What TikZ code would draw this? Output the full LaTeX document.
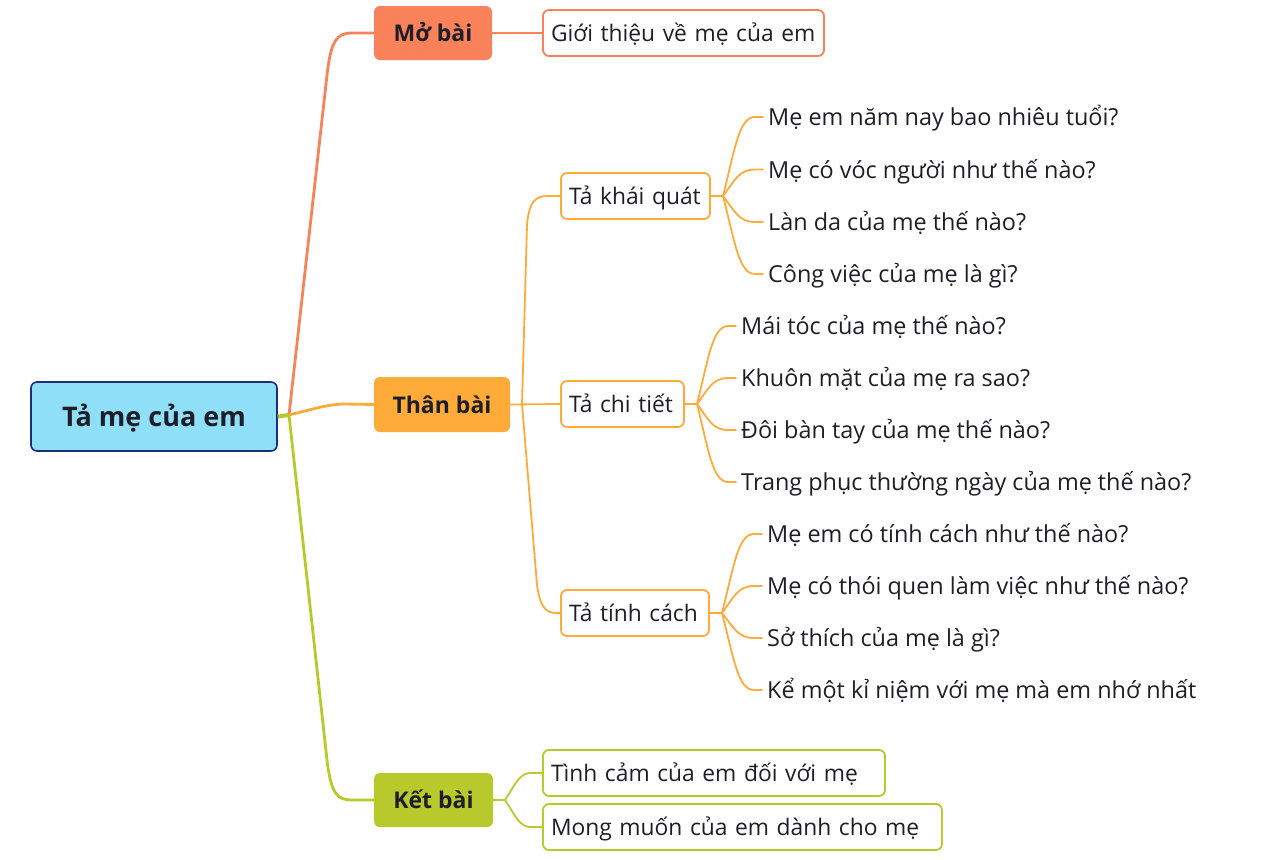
\documentclass[tikz,border=0pt]{standalone}
\usepackage{fontspec}
\setmainfont{Open Sans}
\usetikzlibrary{calc}
\definecolor{coral}{HTML}{F9825A}
\definecolor{orng}{HTML}{FEAB3A}
\definecolor{grn}{HTML}{B7C92B}
\definecolor{rootfill}{HTML}{8FDFF9}
\definecolor{rootdraw}{HTML}{1F2D7D}
\definecolor{txt}{HTML}{1E1E28}
\newcommand\mmleaf[3][]{\draw[#1] let \p1=(#2), \p2=(#3.west) in (#2) .. controls ({\x1+0.3*(\x2-\x1)},{\y1+0.6*(\y2-\y1)}) and ({\x1+0.4*(\x2-\x1)},\y2) .. ({\x1+0.8*(\x2-\x1)},\y2) -- (#3.west);}
\tikzset{
  every node/.style={text=txt},
  rootbox/.style={draw=rootdraw, line width=1.6pt, fill=rootfill, rounded corners=6pt, inner sep=0pt,
    font=\bfseries\fontsize{27}{32}\selectfont, text height=19.5pt, text depth=0pt},
  mainbox/.style={rounded corners=6pt, inner sep=0pt,
    font=\bfseries\fontsize{23}{28}\selectfont, text height=17pt, text depth=0pt},
  subbox/.style={draw, line width=1.8pt, rounded corners=6pt, fill=white, inner xsep=8pt, inner ysep=0pt,
    align=left, text width=#1-16pt, minimum height=46pt,
    execute at begin node={\hbox\bgroup}, execute at end node={\egroup},
    font=\fontsize{22.8}{28}\selectfont, text height=17pt, text depth=0pt},
  leaf/.style={anchor=west, inner xsep=5pt, inner ysep=0pt,
    font=\fontsize{23.4}{28}\selectfont, text height=17pt, text depth=0pt},
  mainline/.style={line width=2.8pt, line cap=round},
  subline/.style={line width=1.8pt, line cap=round},
}
\begin{document}
\begin{tikzpicture}[x=1pt,y=-1pt]
\path[use as bounding box] (0,0) rectangle (1278,860);
% root and main branches
\node[rootbox, minimum width=246pt, minimum height=69pt] (root) at (154,416.5) {Tả mẹ của em};
\node[mainbox, fill=coral, minimum width=118pt, minimum height=54pt] (mo) at (433,33) {Mở bài};
\node[mainbox, fill=orng, minimum width=136pt, minimum height=55pt] (than) at (442,404.5) {Thân bài};
\node[mainbox, fill=grn, minimum width=119pt, minimum height=54pt] (ket) at (433.5,800) {Kết bài};
\coordinate (hub) at (289,415);
\draw[grn, line width=4pt] (root.east) -- (hub);
\draw[coral, mainline] (hub) -- (327,75) .. controls (331,40) and (337,33) .. (352,33) -- (mo.west);
\draw[orng, mainline] (hub) .. controls (310,410) and (328,404) .. (345,404) -- (than.west);
\draw[grn, mainline] (hub) -- (327,760) .. controls (331,795) and (338,800) .. (352,800) -- (ket.west);
% Mo bai
\node[subbox=281pt, draw=coral] (gioi) at (683.5,33) {Giới thiệu về mẹ của em};
\draw[coral, subline] (mo.east) -- (gioi.west);
% Than bai
\node[subbox=149pt, draw=orng] (tkq) at (635.5,196) {Tả khái quát};
\node[subbox=123pt, draw=orng] (tct) at (622.5,404) {Tả chi tiết};
\node[subbox=148pt, draw=orng] (ttc) at (635,613) {Tả tính cách};
\coordinate (jt) at (522,404);
\draw[orng, subline] (than.east) -- (tct.west);
\draw[orng, subline] (jt) -- (527,225) .. controls (529,202) and (535,196) .. (548,196) -- (tkq.west);
\draw[orng, subline] (jt) -- (537,585) .. controls (540,607) and (546,613) .. (556,613) -- (ttc.west);
% Ta khai quat leaves
\coordinate (j1) at (723,196);
\draw[orng, subline] (tkq.east) -- (j1);
\node[leaf] (kq1) at (763,117) {Mẹ em năm nay bao nhiêu tuổi?};
\node[leaf] (kq2) at (763,169.5) {Mẹ có vóc người như thế nào?};
\node[leaf] (kq3) at (763,222) {Làn da của mẹ thế nào?};
\node[leaf] (kq4) at (763,274) {Công việc của mẹ là gì?};
\mmleaf[orng, subline]{j1}{kq1}
\mmleaf[orng, subline]{j1}{kq2}
\mmleaf[orng, subline]{j1}{kq3}
\mmleaf[orng, subline]{j1}{kq4}
% Ta chi tiet leaves
\coordinate (j2) at (697,404);
\draw[orng, subline] (tct.east) -- (j2);
\node[leaf] (ct1) at (736,326) {Mái tóc của mẹ thế nào?};
\node[leaf] (ct2) at (736,378) {Khuôn mặt của mẹ ra sao?};
\node[leaf] (ct3) at (736,430) {Đôi bàn tay của mẹ thế nào?};
\node[leaf] (ct4) at (736,482) {Trang phục thường ngày của mẹ thế nào?};
\mmleaf[orng, subline]{j2}{ct1}
\mmleaf[orng, subline]{j2}{ct2}
\mmleaf[orng, subline]{j2}{ct3}
\mmleaf[orng, subline]{j2}{ct4}
% Ta tinh cach leaves
\coordinate (j3) at (722,613);
\draw[orng, subline] (ttc.east) -- (j3);
\node[leaf] (tc1) at (762,534) {Mẹ em có tính cách như thế nào?};
\node[leaf] (tc2) at (762,586) {Mẹ có thói quen làm việc như thế nào?};
\node[leaf] (tc3) at (762,638) {Sở thích của mẹ là gì?};
\node[leaf] (tc4) at (762,690) {Kể một kỉ niệm với mẹ mà em nhớ nhất};
\mmleaf[orng, subline]{j3}{tc1}
\mmleaf[orng, subline]{j3}{tc2}
\mmleaf[orng, subline]{j3}{tc3}
\mmleaf[orng, subline]{j3}{tc4}
% Ket bai
\node[subbox=342pt, draw=grn] (kb1) at (714,773) {Tình cảm của em đối với mẹ};
\node[subbox=399pt, draw=grn] (kb2) at (742.5,827) {Mong muốn của em dành cho mẹ};
\coordinate (jk) at (505,800);
\draw[grn, subline] (ket.east) -- (jk);
\draw[grn, subline] (jk) .. controls (514,787) and (519,773) .. (530,773) -- (kb1.west);
\draw[grn, subline] (jk) .. controls (514,813) and (519,827) .. (530,827) -- (kb2.west);
\end{tikzpicture}
\end{document}
